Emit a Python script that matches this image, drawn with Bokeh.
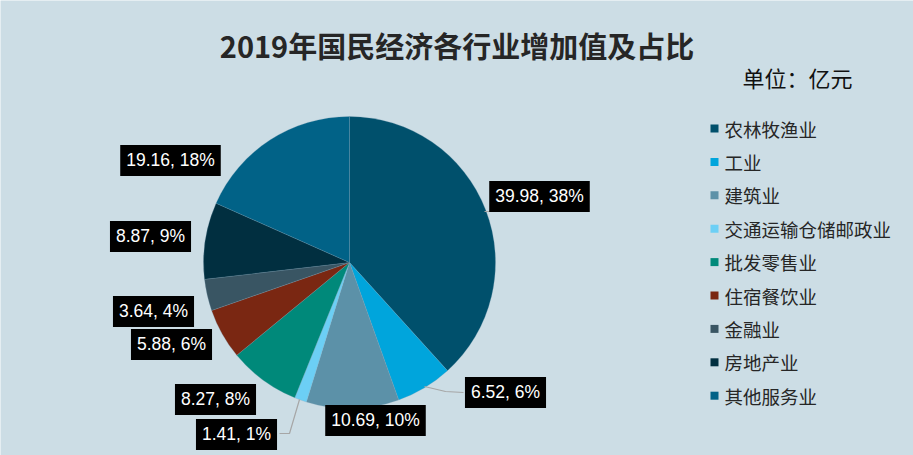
import math
from bokeh.plotting import figure
from bokeh.models import ColumnDataSource
from bokeh.core.properties import value
from bokeh.embed import file_html
from bokeh.resources import INLINE

# ---- data ----
categories = ["农林牧渔业", "工业", "建筑业", "交通运输仓储邮政业", "批发零售业",
              "住宿餐饮业", "金融业", "房地产业", "其他服务业"]
values = [39.98, 6.52, 10.69, 1.41, 8.27, 5.88, 3.64, 8.87, 19.16]
percents = [38, 6, 10, 1, 8, 6, 4, 9, 18]
colors = ["#00506C", "#00A5DC", "#5C91A8", "#6CCFF5", "#00897A",
          "#7A2712", "#395563", "#012F40", "#016287"]
title_text = "2019年国民经济各行业增加值及占比"
unit_text = "单位：亿元"

# ---- layout (pixel space, y measured from top) ----
W, H = 913, 455
BG = "#CCDDE5"
cx, cy, R = 349, 262, 146
label_pos = [(539, 196), (505, 392), (375, 420), (236, 434), (215, 399),
             (171, 344), (153, 311), (150, 236), (170, 160)]
legend_x, legend_y0, legend_dy = 714, 128, 33.4

def Y(py):
    return H - py

p = figure(width=W, height=H, x_range=(0, W), y_range=(0, H),
           output_backend="svg", toolbar_location=None,
           min_border=0, background_fill_color=BG, border_fill_color=BG,
           outline_line_color=None)
p.axis.visible = False
p.grid.visible = False

total = sum(values)
starts, ends = [], []
acc = 0.0
for v in values:
    starts.append(math.pi / 2 - 2 * math.pi * acc / total)
    acc += v
    ends.append(math.pi / 2 - 2 * math.pi * acc / total)

src = ColumnDataSource(dict(start=starts, end=ends, color=colors,
                            x=[cx] * len(values), y=[Y(cy)] * len(values)))
p.wedge(x="x", y="y", radius=R, start_angle="start", end_angle="end",
        direction="clock", fill_color="color", line_color="#7FA3B5",
        line_width=0.4, line_alpha=0.6, source=src)

# leader lines
lead = "#A6A6A6"
p.line([484, 502], [Y(211), Y(211)], line_color=lead, line_width=1.2)
p.line([424, 445, 463], [Y(386), Y(391), Y(392)], line_color=lead, line_width=1.2)
p.line([299, 289, 279], [Y(399), Y(433), Y(433)], line_color=lead, line_width=1.2)

# data labels
lab_text = ["%.2f, %d%%" % (v, pc) for v, pc in zip(values, percents)]
lsrc = ColumnDataSource(dict(x=[a for a, b in label_pos],
                             y=[Y(b) for a, b in label_pos], t=lab_text))
p.text(x="x", y="y", text="t", source=lsrc, text_color="white",
       text_font=value("Liberation Sans"), text_font_size="17.5px",
       text_align="center", text_baseline="middle",
       background_fill_color="black", padding=[6, 6, 5, 6])

# title
p.text(x=[W / 2], y=[Y(44)], text=[title_text], text_color="#262626",
       text_font=value("Noto Sans CJK SC"), text_font_style="bold",
       text_font_size="29px", text_align="center", text_baseline="middle")
p.text(x=[742], y=[Y(76)], text=[unit_text], text_color="#111111",
       text_font=value("Noto Sans CJK SC"), text_font_size="22px",
       text_align="left", text_baseline="middle")

# legend
ly = [Y(legend_y0 + i * legend_dy) for i in range(len(categories))]
p.rect(x=[legend_x] * len(categories), y=ly, width=8, height=8,
       fill_color=colors, line_color=None)
p.text(x=[legend_x + 10] * len(categories), y=ly, text=categories,
       text_color="#262626", text_font=value("Noto Sans CJK SC"),
       text_font_size="18.5px", text_align="left", text_baseline="middle")

open("out.html", "w").write(file_html(p, INLINE))
